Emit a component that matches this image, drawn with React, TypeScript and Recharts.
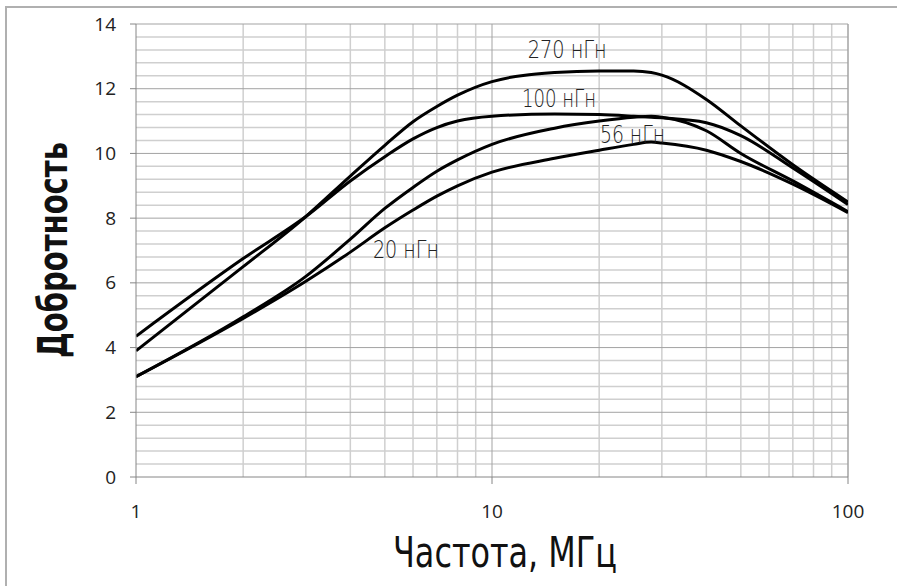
import React from 'react';
import { LineChart, Line, XAxis, YAxis, ReferenceLine, ReferenceDot, Label } from 'recharts';

const freqs = [1, 2, 3, 4, 5, 6, 7, 8, 10, 15, 20, 25, 28, 30, 40, 50, 70, 100];
const q270 = [3.9, 6.5, 8.05, 9.3, 10.25, 10.98, 11.45, 11.8, 12.22, 12.5, 12.55, 12.55, 12.5, 12.42, 11.67, 10.85, 9.65, 8.5];
const q100 = [4.35, 6.75, 8.05, 9.15, 9.9, 10.45, 10.8, 11.0, 11.15, 11.22, 11.2, 11.15, 11.12, 11.1, 10.95, 10.55, 9.55, 8.42];
const q56 = [3.1, 4.95, 6.2, 7.35, 8.3, 8.95, 9.45, 9.8, 10.28, 10.78, 11.0, 11.12, 11.15, 11.12, 10.7, 10.0, 9.15, 8.2];
const q20 = [3.1, 4.9, 6.05, 6.95, 7.7, 8.25, 8.68, 9.0, 9.42, 9.85, 10.1, 10.28, 10.35, 10.32, 10.1, 9.75, 9.05, 8.17];

const xTicks = [1, 10, 100];
const xMinor = [2, 3, 4, 5, 6, 7, 8, 9, 20, 30, 40, 50, 60, 70, 80, 90];
const yTicks = [0, 2, 4, 6, 8, 10, 12, 14];
const yMinor = [0.4, 0.8, 1.2, 1.6, 2.4, 2.8, 3.2, 3.6, 4.4, 4.8, 5.2, 5.6, 6.4, 6.8, 7.2, 7.6, 8.4, 8.8, 9.2, 9.6, 10.4, 10.8, 11.2, 11.6, 12.4, 12.8, 13.2, 13.6];

// curve labels: text, left frequency, baseline value, text width
const curveLabels = [
  { text: '270 нГн', f: 12.6, q: 12.95, w: 79 },
  { text: '100 нГн', f: 12.14, q: 11.44, w: 74 },
  { text: '56 нГн', f: 20.1, q: 10.31, w: 65 },
  { text: '20 нГн', f: 4.63, q: 6.78, w: 66 },
];

const data = freqs.map((f, i) => ({ f, q270: q270[i], q100: q100[i], q56: q56[i], q20: q20[i] }));

const tickFont = '"Open Sans", sans-serif';
const minorColor = '#cfcfcf';
const majorColor = '#a3a3a3';

const XTick = ({ x, y, payload }: any) => (
  <text x={x} y={y} dy={13.5} textAnchor="middle" fontFamily={tickFont} fontSize={19} fill="#222">{payload.value}</text>
);
const YTick = ({ x, y, payload }: any) => (
  <text x={x} y={y} dy={6.5} textAnchor="end" fontFamily={tickFont} fontSize={19} fill="#222">{payload.value}</text>
);

export default function App() {
  return (
    <div style={{ position: 'absolute', left: 0, top: 0, width: 897, height: 586, overflow: 'hidden', background: '#fff' }}>
      <div style={{ position: 'absolute', left: 5, top: 6, width: 900, height: 600, border: '2px solid #b0b0b0' }} />
      <LineChart width={897} height={586} data={data} margin={{ top: 24, right: 49, left: 0, bottom: 0 }}>
        {xMinor.map(v => <ReferenceLine key={'vx' + v} x={v} stroke={minorColor} strokeWidth={1.5} />)}
        {yMinor.map(v => <ReferenceLine key={'hy' + v} y={v} stroke={minorColor} strokeWidth={1.5} />)}
        {yTicks.slice(1).map(v => <ReferenceLine key={'my' + v} y={v} stroke={majorColor} strokeWidth={1} />)}
        <ReferenceLine x={10} stroke={majorColor} strokeWidth={1} />
        <ReferenceLine x={100} stroke={majorColor} strokeWidth={1.5} />
        <XAxis dataKey="f" type="number" scale="log" domain={[1, 100]} ticks={xTicks} allowDataOverflow
          height={109} tickSize={7} tickMargin={20} stroke="#868686" tick={<XTick />} />
        <YAxis type="number" domain={[0, 14]} ticks={yTicks} width={136} tickSize={6} tickMargin={14}
          stroke="#868686" tick={<YTick />} />
        <Line dataKey="q270" type="monotone" stroke="#000" strokeWidth={3} dot={false} isAnimationActive={false} />
        <Line dataKey="q100" type="monotone" stroke="#000" strokeWidth={3} dot={false} isAnimationActive={false} />
        <Line dataKey="q56" type="monotone" stroke="#000" strokeWidth={3} dot={false} isAnimationActive={false} />
        <Line dataKey="q20" type="monotone" stroke="#000" strokeWidth={3} dot={false} isAnimationActive={false} />
        {curveLabels.map(l => (
          <ReferenceDot key={l.text} x={l.f} y={l.q} r={0} fill="none" stroke="none" ifOverflow="visible">
            <Label content={(props: any) => {
              const vb = props.viewBox || {};
              return <text x={vb.x} y={vb.y} textLength={l.w} lengthAdjust="spacingAndGlyphs"
                style={{ fontFamily: '"DejaVu Sans", sans-serif', fontWeight: 200, fontSize: 24, fill: '#222' }}>{l.text}</text>;
            }} />
          </ReferenceDot>
        ))}
      </LineChart>
      <svg width={897} height={586} style={{ position: 'absolute', left: 0, top: 0, pointerEvents: 'none' }}>
        <text x={393} y={567} textLength={224} lengthAdjust="spacingAndGlyphs"
          style={{ fontFamily: '"DejaVu Sans Condensed", "DejaVu Sans", sans-serif', fontSize: 42, fill: '#111' }}>Частота, МГц</text>
        <text transform="translate(67,358) rotate(-90)" x={0} y={0} textLength={216} lengthAdjust="spacingAndGlyphs"
          style={{ fontFamily: '"DejaVu Sans Condensed", "DejaVu Sans", sans-serif', fontSize: 40, fontWeight: 'bold', fill: '#111' }}>Добротность</text>
      </svg>
    </div>
  );
}
